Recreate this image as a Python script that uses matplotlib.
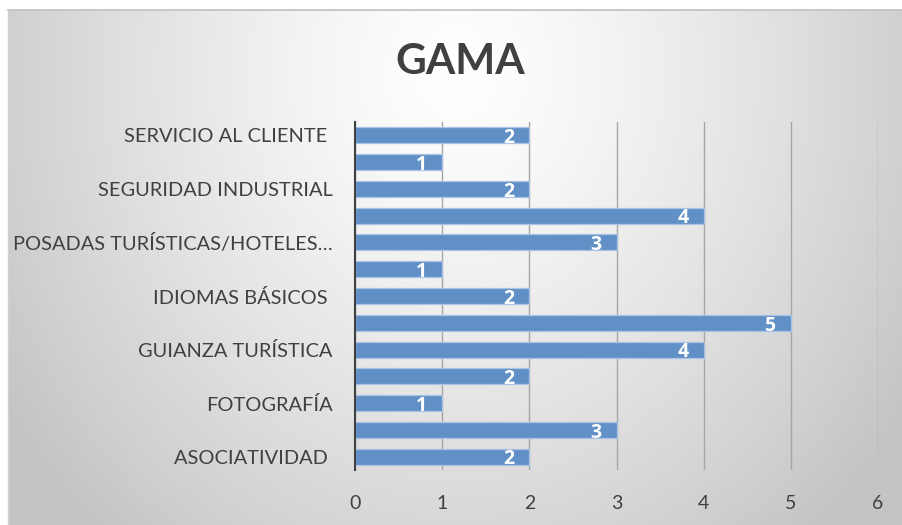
import numpy as np
import matplotlib
matplotlib.use("Agg")
import matplotlib.pyplot as plt

categories = ["ASOCIATIVIDAD ", "", "FOTOGRAFÍA", "", "GUIANZA TURÍSTICA", "",
              "IDIOMAS BÁSICOS ", "", "POSADAS TURÍSTICAS/HOTELES…", "",
              "SEGURIDAD INDUSTRIAL", "", "SERVICIO AL CLIENTE "]
values = [2, 3, 1, 2, 4, 5, 2, 1, 3, 4, 2, 1, 2]
xticks = [0, 1, 2, 3, 4, 5, 6]
title = "GAMA"

W, H = 902, 525
fig = plt.figure(figsize=(W / 100, H / 100), dpi=100)
fig.patch.set_facecolor("white")

# background gradient for the chart area
bx0, by0, bx1, by1 = 8, 10, 902, 525  # pixels, top-left origin
bg = fig.add_axes([bx0 / W, 1 - by1 / H, (bx1 - bx0) / W, (by1 - by0) / H])
ny, nx = 200, 360
yy, xx = np.mgrid[0:ny, 0:nx]
cx, cy = nx * 0.50, ny * 0.12
d = np.sqrt(((xx - cx) / (nx * 0.60)) ** 2 + ((yy - cy) / (ny * 1.2)) ** 2)
d = np.clip(d, 0, 1)
v = 1.0 - 0.23 * d ** 1.3
img = np.dstack([v, v, v])
bg.imshow(img, aspect="auto", extent=[0, 1, 0, 1], origin="upper")
bg.set_axis_off()
fig.add_artist(plt.Line2D([bx0 / W, 1], [1 - by0 / H, 1 - by0 / H],
                          color="#c0c0c0", lw=1.2, transform=fig.transFigure))
fig.add_artist(plt.Line2D([bx0 / W, bx0 / W], [0, 1 - by0 / H],
                          color="#d0d0d0", lw=1.0, transform=fig.transFigure))

# plot area
px0, px1 = 355, 878
py0, py1 = 122, 470
ax = fig.add_axes([px0 / W, 1 - py1 / H, (px1 - px0) / W, (py1 - py0) / H])
ax.patch.set_alpha(0)
y = np.arange(len(values))
bars = ax.barh(y, values, height=0.6, color="#6190c6", edgecolor="#a9c4e6",
               linewidth=0.9, zorder=3)
ax.set_xlim(0, 6)
ax.set_ylim(-0.5, len(values) - 0.5)
ax.set_xticks(xticks)
ax.set_xticklabels([str(t) for t in xticks], fontsize=14, color="#404040",
                   family="Lato")
ax.set_yticks(y)
ax.set_yticklabels(categories, fontsize=14.4, color="#404040", family="Lato")
ax.tick_params(axis="both", length=0)
ax.tick_params(axis="y", pad=16)
ax.tick_params(axis="x", pad=18)
for s in ["top", "right", "bottom"]:
    ax.spines[s].set_visible(False)
ax.spines["left"].set_color("#404040")
ax.spines["left"].set_linewidth(1.5)
ax.spines["left"].set_zorder(5)
ax.grid(axis="x", color="#a6a6a6", linewidth=1.0, zorder=1)
ax.set_axisbelow(True)

for b, val in zip(bars, values):
    ax.annotate(str(val), xy=(val, b.get_y() + b.get_height() / 2),
                xytext=(-11, -2), textcoords="offset points", ha="right",
                va="center", color="white", fontsize=14, fontweight="bold",
                family="Open Sans", zorder=6)

fig.text(460 / W, 1 - 62 / H, title, ha="center", va="center", fontsize=30.5,
         fontweight="bold", color="#404040", family="Lato")

fig.savefig("out.png", dpi=100)
